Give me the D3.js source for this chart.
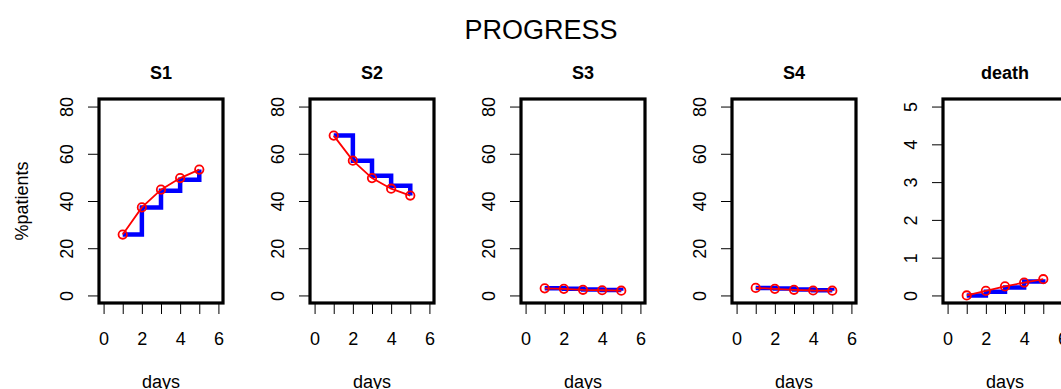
<!DOCTYPE html>
<html>
<head>
<meta charset="utf-8">
<script src="https://cdn.jsdelivr.net/npm/d3@7"></script>
<style>
  body { margin: 0; background: #fff; }
  svg { display: block; }
  text { font-family: "Liberation Sans", Arial, Helvetica, sans-serif; fill: #000; }
  .tick line { stroke: #000; stroke-width: 1; }
  .tick text { font-size: 18px; }
</style>
</head>
<body>
<script>
// data
var days = [1, 2, 3, 4, 5];
var panelNames = ["S1", "S2", "S3", "S4", "death"];

// blue step line (type = "s") and red points + line
var s1Step = [25.8, 37.3, 44.3, 49.0, 53.3];
var s1Pts = [25.8, 37.3, 44.8, 49.7, 53.3];
var s2Step = [67.7, 57.1, 50.7, 46.5, 42.3];
var s2Pts = [67.7, 57.1, 49.7, 45.2, 42.3];
var s3Step = [3.0, 2.8, 2.5, 2.3, 2.0];
var s3Pts = [3.0, 2.8, 2.4, 2.2, 2.0];
var s4Step = [3.2, 2.9, 2.5, 2.2, 2.0];
var s4Pts = [3.2, 2.8, 2.4, 2.1, 2.0];
var deathStep = [0, 0.1, 0.21, 0.37, 0.43];
var deathPts = [0, 0.12, 0.24, 0.34, 0.43];

var stepSeries = [s1Step, s2Step, s3Step, s4Step, deathStep];
var pointSeries = [s1Pts, s2Pts, s3Pts, s4Pts, deathPts];

var xTicks = [0, 1, 2, 3, 4, 5, 6];
var xLabels = [0, 2, 4, 6];
var pctTicks = [0, 20, 40, 60, 80];
var deathTicks = [0, 1, 2, 3, 4, 5];
var yTickSets = [pctTicks, pctTicks, pctTicks, pctTicks, deathTicks];
var yMax = [80, 80, 80, 80, 5];

var width = 1061, height = 389;
var box = {left: 99, top: 99, width: 124, height: 204, step: 211};

var svg = d3.select("body").append("svg")
    .attr("width", width)
    .attr("height", height);

// main title
svg.append("text")
    .attr("x", 541)
    .attr("y", 38.5)
    .attr("text-anchor", "middle")
    .style("font-size", "27px")
    .text("PROGRESS");

// shared y label
svg.append("text")
    .attr("transform", "translate(28," + (box.top + box.height / 2) + ") rotate(-90)")
    .attr("text-anchor", "middle")
    .style("font-size", "18px")
    .text("%patients");

for (var i = 0; i < panelNames.length; i++) {
    var x0 = box.left + i * box.step;

    // R style 4% padding on both axes
    var xScale = d3.scaleLinear()
        .domain([-0.24, 6.24])
        .range([x0, x0 + box.width]);

    var pad = yMax[i] * 0.04;
    var yScale = d3.scaleLinear()
        .domain([-pad, yMax[i] + pad])
        .range([box.top + box.height, box.top]);

    var g = svg.append("g");

    // x axis
    var xAxis = g.append("g")
        .attr("transform", "translate(0," + (box.top + box.height) + ")")
        .call(d3.axisBottom(xScale)
            .tickValues(xTicks)
            .tickSize(11)
            .tickSizeOuter(0)
            .tickFormat(function(d) { return xLabels.indexOf(d) >= 0 ? d : ""; }));
    xAxis.select(".domain").remove();
    xAxis.selectAll("text").attr("y", 41.5).attr("dy", 0);

    // y axis, labels parallel to the axis
    var yAxis = g.append("g")
        .attr("transform", "translate(" + x0 + ",0)")
        .call(d3.axisLeft(yScale)
            .tickValues(yTickSets[i])
            .tickSize(11)
            .tickSizeOuter(0)
            .tickFormat(d3.format("d")));
    yAxis.select(".domain").remove();
    yAxis.selectAll("text")
        .attr("x", null)
        .attr("dy", null)
        .attr("text-anchor", "middle")
        .attr("transform", "translate(-26.5,0) rotate(-90)");

    // axis lines from first to last tick
    g.append("line")
        .attr("x1", xScale(0)).attr("x2", xScale(6))
        .attr("y1", box.top + box.height).attr("y2", box.top + box.height)
        .attr("stroke", "#000");
    g.append("line")
        .attr("x1", x0).attr("x2", x0)
        .attr("y1", yScale(0)).attr("y2", yScale(yMax[i]))
        .attr("stroke", "#000");

    // panel title
    g.append("text")
        .attr("x", x0 + box.width / 2)
        .attr("y", 78.5)
        .attr("text-anchor", "middle")
        .style("font-size", "18px")
        .style("font-weight", "bold")
        .text(panelNames[i]);

    // x label
    g.append("text")
        .attr("x", x0 + box.width / 2)
        .attr("y", 388)
        .attr("text-anchor", "middle")
        .style("font-size", "18px")
        .text("days");

    var stepData = days.map(function(d, k) { return {day: d, value: stepSeries[i][k]}; });
    var ptData = days.map(function(d, k) { return {day: d, value: pointSeries[i][k]}; });

    var line = d3.line()
        .x(function(d) { return xScale(d.day); })
        .y(function(d) { return yScale(d.value); });

    // blue step line
    g.append("path")
        .datum(stepData)
        .attr("fill", "none")
        .attr("stroke", "#0000ff")
        .attr("stroke-width", 4.5)
        .attr("d", line.curve(d3.curveStepAfter));

    // red line with open circles
    g.append("path")
        .datum(ptData)
        .attr("fill", "none")
        .attr("stroke", "#ff0000")
        .attr("stroke-width", 1.8)
        .attr("d", line.curve(d3.curveLinear));

    g.selectAll(".dot")
        .data(ptData)
      .enter().append("circle")
        .attr("class", "dot")
        .attr("cx", function(d) { return xScale(d.day); })
        .attr("cy", function(d) { return yScale(d.value); })
        .attr("r", 4.2)
        .attr("fill", "none")
        .attr("stroke", "#ff0000")
        .attr("stroke-width", 1.8);

    // thick frame
    g.append("rect")
        .attr("x", x0)
        .attr("y", box.top)
        .attr("width", box.width)
        .attr("height", box.height)
        .attr("fill", "none")
        .attr("stroke", "#000")
        .attr("stroke-width", 3.2);
}
</script>
</body>
</html>
